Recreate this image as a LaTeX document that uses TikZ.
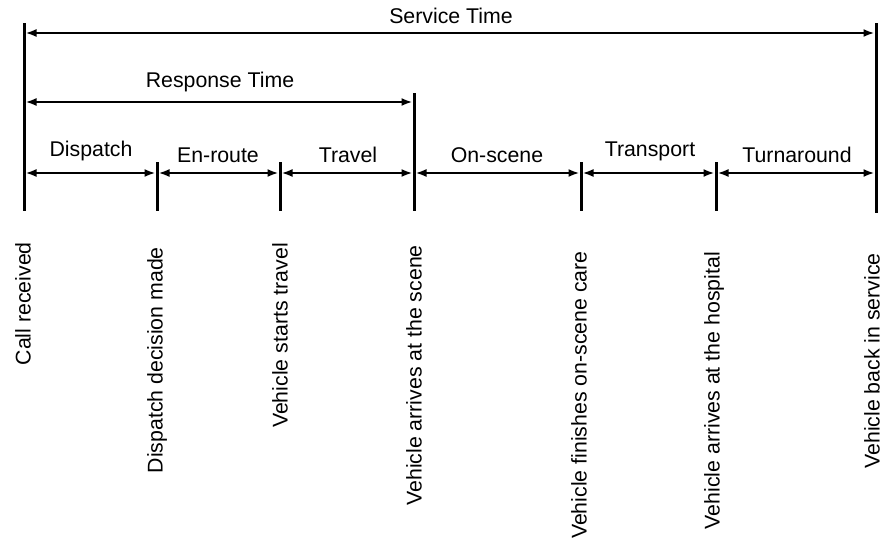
\documentclass[tikz,border=0pt]{standalone}
\usepackage{fontspec}
\setmainfont{Liberation Sans}
\usetikzlibrary{arrows.meta}
\begin{document}
\begin{tikzpicture}[x=1pt,y=-1pt,
  tick/.style={line width=3pt},
  span/.style={line width=2pt,{Latex[length=11pt,width=8pt]}-{Latex[length=11pt,width=8pt]},shorten <=1.5pt,shorten >=1.5pt},
  lbl/.style={font=\fontsize{21.3}{25}\selectfont,inner sep=0pt},
  vlbl/.style={lbl,rotate=90,anchor=east}]
\useasboundingbox (0,0) rectangle (883,544);
% tick line end points
\coordinate (a0) at (24,23);   \coordinate (b0) at (24,211);
\coordinate (a1) at (157,162); \coordinate (b1) at (157,211);
\coordinate (a2) at (280,162); \coordinate (b2) at (280,211);
\coordinate (a3) at (414,93);  \coordinate (b3) at (414,211);
\coordinate (a4) at (581,162); \coordinate (b4) at (581,211);
\coordinate (a5) at (716,162); \coordinate (b5) at (716,211);
\coordinate (a6) at (876,23);  \coordinate (b6) at (876,213);
\foreach \i in {0,...,6} {\draw[tick] (a\i) -- (b\i);}
% arrow end points
\coordinate (s0) at (24,33);  \coordinate (s6) at (876,33);
\coordinate (r0) at (24,102); \coordinate (r3) at (414,102);
\foreach \i/\xx in {0/24,1/157,2/280,3/414,4/581,5/716,6/876} {\coordinate (p\i) at (\xx,173);}
\draw[span] (s0) -- (s6);
\draw[span] (r0) -- (r3);
\draw[span] (p0) -- (p1);
\draw[span] (p1) -- (p2);
\draw[span] (p2) -- (p3);
\draw[span] (p3) -- (p4);
\draw[span] (p4) -- (p5);
\draw[span] (p5) -- (p6);
% span labels
\node[lbl] (lserv) at (451,16) {Service Time};
\node[lbl] (lresp) at (220,82) {Response Time};
\node[lbl] (ldisp) at (91,151) {Dispatch};
\node[lbl] (lenr) at (218,155) {En-route};
\node[lbl] (ltrav) at (348,155) {Travel};
\node[lbl] (lons) at (497,155) {On-scene};
\node[lbl] (ltran) at (650,151) {Transport};
\node[lbl] (lturn) at (797,155) {Turnaround};
% event labels
\node[vlbl] (e0) at (23,242) {Call received};
\node[vlbl] (e1) at (157,247) {Dispatch decision made};
\node[vlbl] (e2) at (280,243) {Vehicle starts travel};
\node[vlbl] (e3) at (414,245) {Vehicle arrives at the scene};
\node[vlbl] (e4) at (579,251) {Vehicle finishes on-scene care};
\node[vlbl] (e5) at (714,252) {Vehicle arrives at the hospital};
\node[vlbl] (e6) at (872,253) {Vehicle back in service};
\end{tikzpicture}
\end{document}
